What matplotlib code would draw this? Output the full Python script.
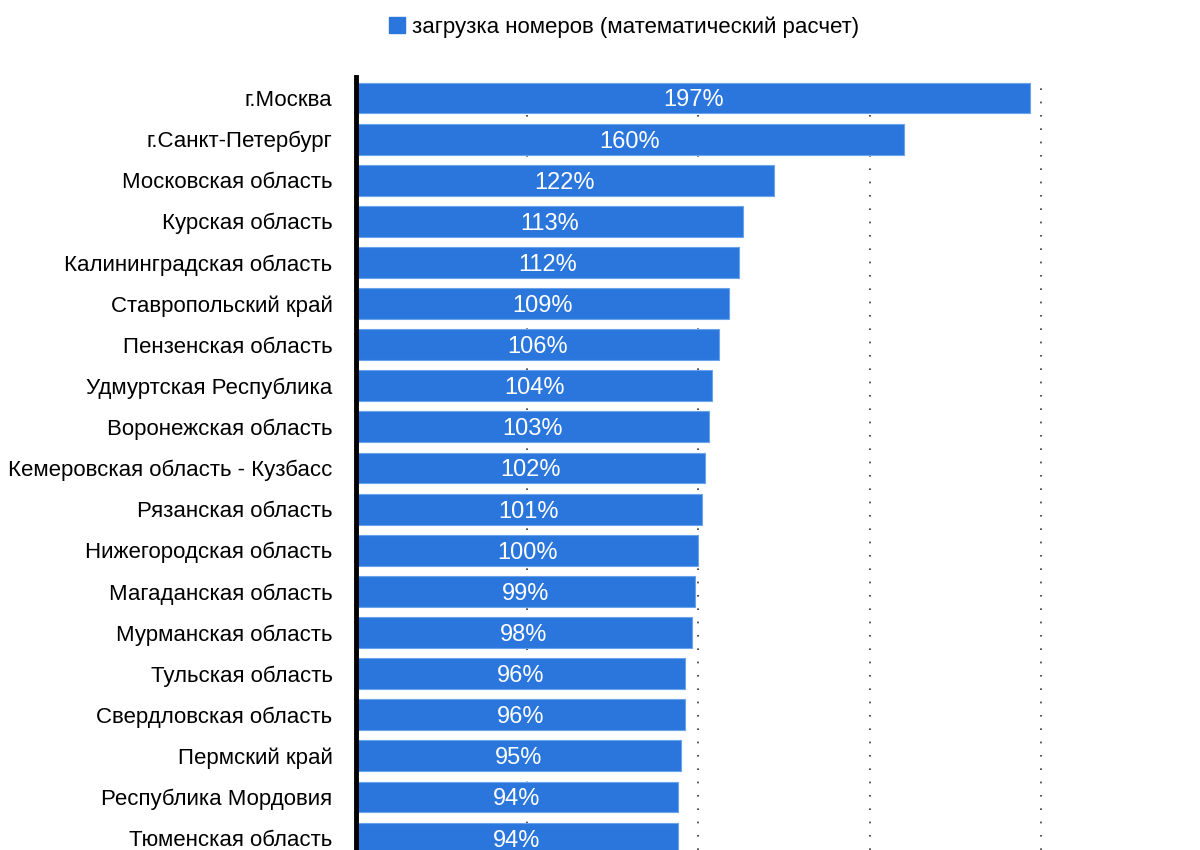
import numpy as np
import matplotlib.pyplot as plt
from matplotlib.patches import Patch

plt.rcParams['font.family'] = ['Liberation Sans Narrow', 'Liberation Sans', 'DejaVu Sans']

regions = ['г.Москва', 'г.Санкт-Петербург', 'Московская область', 'Курская область',
           'Калининградская область', 'Ставропольский край', 'Пензенская область',
           'Удмуртская Республика', 'Воронежская область', 'Кемеровская область - Кузбасс',
           'Рязанская область', 'Нижегородская область', 'Магаданская область',
           'Мурманская область', 'Тульская область', 'Свердловская область',
           'Пермский край', 'Республика Мордовия', 'Тюменская область']
load = [197, 160, 122, 113, 112, 109, 106, 104, 103, 102, 101, 100, 99, 98, 96, 96, 95, 94, 94]
legend_label = 'загрузка номеров (математический расчет)'

bar_color = '#2a76dd'

fig = plt.figure(figsize=(12, 8.5), dpi=100)
ax = fig.add_axes([0.2967, 0.0, 0.623, 0.9094])

y = np.arange(len(regions))
bars = ax.barh(y, load, height=0.75, color=bar_color, edgecolor='#6aa3ea', linewidth=0.8, zorder=2)

# подписи значений по центру столбца
for yi, v in zip(y, load):
    ax.text(v / 2, yi + 0.06, f'{v}%', ha='center', va='center', color='white', fontsize=17, zorder=3)

ax.set_xlim(0, 218.4)
ax.set_ylim(18.29, -0.51)
ax.set_yticks(y)
ax.set_yticklabels(regions, fontsize=16)
ax.tick_params(axis='y', length=0, pad=17)
ax.set_xticks([50, 100, 150, 200])
ax.tick_params(axis='x', length=0, labelbottom=False)
ax.grid(axis='x', color='#333333', linestyle=(0, (1, 7)), linewidth=1.2, zorder=1)

for s in ['top', 'right', 'bottom']:
    ax.spines[s].set_visible(False)
ax.spines['left'].set_linewidth(3.5)
ax.spines['left'].set_color('black')
ax.spines['left'].set_zorder(4)

fig.legend(handles=[Patch(color=bar_color)], labels=[legend_label],
           loc='center', bbox_to_anchor=(0.52, 0.968), frameon=False,
           fontsize=16, handlelength=0.75, handleheight=0.75, handletextpad=0.3)

fig.savefig('out.png', dpi=100)
